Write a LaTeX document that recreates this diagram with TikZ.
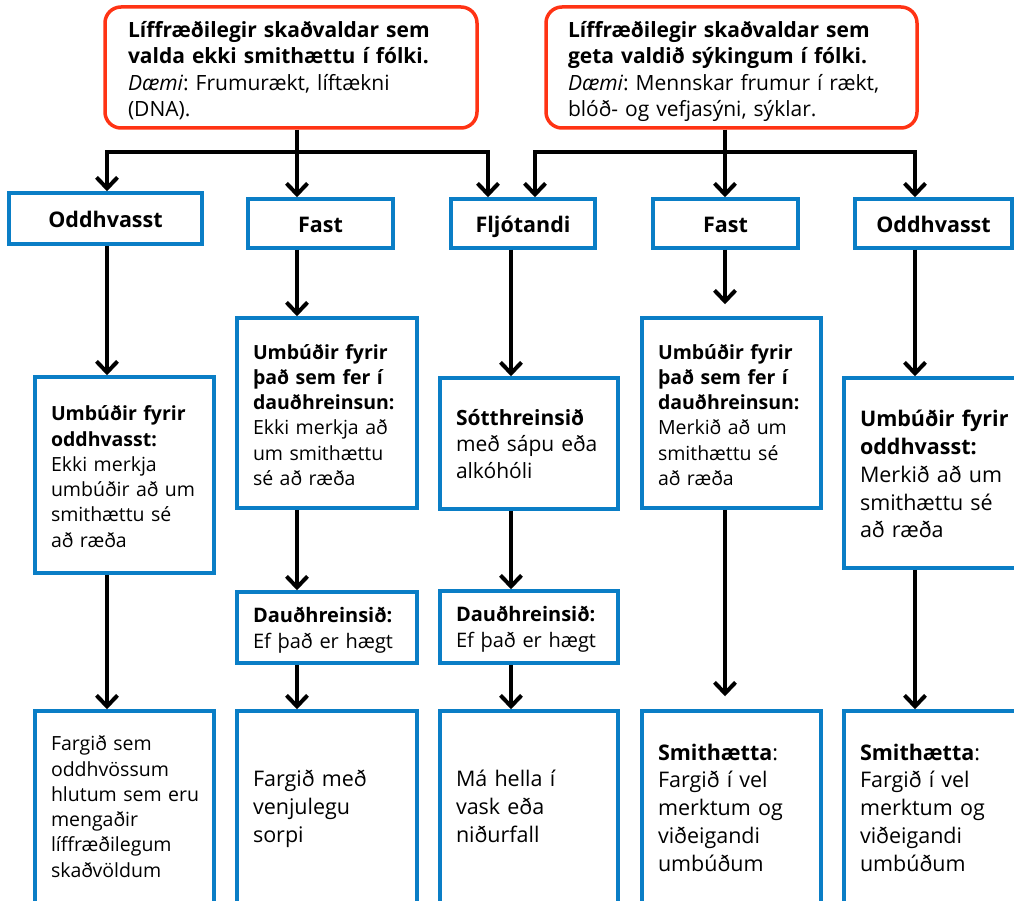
\documentclass[tikz,border=0pt]{standalone}
\usepackage{fontspec}
\setmainfont{Open Sans}
\usetikzlibrary{arrows.meta}
\definecolor{boxblue}{HTML}{0A7EC6}
\definecolor{boxred}{HTML}{FF3314}
\frenchspacing

\begin{document}
\begin{tikzpicture}[x=1pt, y=-1pt,
    redbox/.style={draw=boxred, line width=3.5pt, fill=white, rounded corners=16pt, align=left, inner sep=0pt, font=\fontsize{21}{26.5}\selectfont},
    bluebox/.style={draw=boxblue, line width=3.5pt, fill=white, sharp corners, align=left, inner sep=0pt, font=\fontsize{19.5}{25.3}\selectfont},
    head/.style={bluebox, align=center, text height=18.4pt, text depth=0pt, font=\bfseries\fontsize{21.5}{25.5}\selectfont},
    big/.style={font=\fontsize{21.5}{27.8}\selectfont},
    drop/.style={text height=0pt, text depth=#1},
    arr/.style={-{Straight Barb[length=11pt, width=21pt]}, line width=4pt},
    bar/.style={line width=4pt}]

    \clip (0,0) rectangle (1014,901);

    % Columns and junctions
    \coordinate (c1) at (107,0);
    \coordinate (c2) at (297,0);
    \coordinate (c3) at (511,0);
    \coordinate (c4) at (725,0);
    \coordinate (c5) at (915,0);
    \coordinate (fl) at (488,0);
    \coordinate (fr) at (535,0);
    \coordinate (j1) at (297,152);
    \coordinate (j2) at (725,152);

    % Top blocks
    \node[redbox, drop=60.4pt, minimum width=372pt, minimum height=121pt, text width=326pt] (harmless) at (291,67.5)
        {\textbf{Líffræðilegir skaðvaldar sem}\\\textbf{valda ekki smithættu í fólki.}\\\textit{Dæmi}: Frumurækt, líftækni\\(DNA).};
    \node[redbox, drop=60.4pt, minimum width=371pt, minimum height=121pt, text width=327pt] (harmful) at (731.5,67.5)
        {\textbf{Líffræðilegir skaðvaldar sem}\\\textbf{geta valdið sýkingum í fólki.}\\\textit{Dæmi}: Mennskar frumur í rækt,\\blóð- og vefjasýni, sýklar.};

    % Waste types
    \node[head, minimum width=193pt, minimum height=51pt] (sharpA) at (105.5,218.5) {Oddhvasst};
    \node[head, minimum width=145pt, minimum height=49pt] (solidA) at (320.5,223.5) {Fast};
    \node[head, minimum width=144pt, minimum height=49pt] (liquid) at (523,223.5) {Fljótandi};
    \node[head, minimum width=145pt, minimum height=49pt] (solidB) at (725.5,223.5) {Fast};
    \node[head, minimum width=157pt, minimum height=49pt] (sharpB) at (933.5,223.5) {Oddhvasst};

    % Containers
    \node[bluebox, drop=108.6pt, minimum width=179pt, minimum height=196pt, text width=147pt] (packA) at (124.5,475)
        {\textbf{Umbúðir fyrir}\\\textbf{oddhvasst:}\\Ekki merkja\\umbúðir að um\\smithættu sé\\að ræða};
    \node[bluebox, drop=108pt, minimum width=180pt, minimum height=190pt, text width=148pt] (packB) at (327,413)
        {\textbf{Umbúðir fyrir}\\\textbf{það sem fer í}\\\textbf{dauðhreinsun:}\\Ekki merkja að\\um smithættu\\sé að ræða};
    \node[bluebox, drop=37pt, minimum width=178pt, minimum height=131pt, text width=146pt, font=\fontsize{21}{26.7}\selectfont] (disinf) at (529,443.5)
        {\textbf{Sótthreinsið}\\með sápu eða\\alkóhóli};
    \node[bluebox, drop=108pt, minimum width=179pt, minimum height=190pt, text width=147pt] (packC) at (731.5,413)
        {\textbf{Umbúðir fyrir}\\\textbf{það sem fer í}\\\textbf{dauðhreinsun:}\\Merkið að um\\smithættu sé\\að ræða};
    \node[bluebox, big, drop=92.6pt, minimum width=180pt, minimum height=190pt, text width=148pt] (packD) at (934,473)
        {\textbf{Umbúðir~fyrir}\\\textbf{oddhvasst:}\\Merkið~að~um\\smithættu~sé\\að ræða};

    % Sterilise
    \node[bluebox, drop=9.6pt, minimum width=180pt, minimum height=71pt, text width=148pt, font=\fontsize{20}{26}\selectfont] (sterA) at (327,627.5)
        {\textbf{Dauðhreinsið:}\\Ef~það~er~hægt};
    \node[bluebox, drop=10.6pt, minimum width=178pt, minimum height=72pt, text width=146pt, font=\fontsize{20}{26}\selectfont] (sterB) at (529,627)
        {\textbf{Dauðhreinsið:}\\Ef~það~er~hægt};

    % Disposal
    \node[bluebox, drop=112.6pt, minimum width=179pt, minimum height=192pt, text width=147pt] (dispA) at (124.5,807)
        {Fargið sem\\oddhvössum\\hlutum~sem~eru\\mengaðir\\líffræðilegum\\skaðvöldum};
    \node[bluebox, big, drop=40.6pt, minimum width=180pt, minimum height=192pt, text width=148pt] (dispB) at (327,807)
        {Fargið með\\venjulegu\\sorpi};
    \node[bluebox, big, drop=40.6pt, minimum width=178pt, minimum height=192pt, text width=146pt] (dispC) at (529,807)
        {Má hella í\\vask eða\\niðurfall};
    \node[bluebox, big, drop=94pt, minimum width=179pt, minimum height=192pt, text width=147pt] (dispD) at (731.5,807)
        {\textbf{Smithætta}:\\Fargið í vel\\merktum og\\viðeigandi\\umbúðum};
    \node[bluebox, big, drop=94pt, minimum width=180pt, minimum height=192pt, text width=148pt] (dispE) at (934,807)
        {\textbf{Smithætta}:\\Fargið í vel\\merktum og\\viðeigandi\\umbúðum};

    % Branches from the top
    \draw[bar] (harmless.south -| j1) -- (j1);
    \draw[arr] (j1) -| (sharpA.north -| c1);
    \draw[arr] (j1) -- (solidA.north -| j1);
    \draw[arr] (j1) -| (liquid.north -| fl);
    \draw[bar] (harmful.south -| j2) -- (j2);
    \draw[arr] (j2) -| (liquid.north -| fr);
    \draw[arr] (j2) -- (solidB.north -| j2);
    \draw[arr] (j2) -| (sharpB.north -| c5);

    % Arrows down
    \draw[arr] (sharpA.south -| c1) -- (packA.north -| c1);
    \draw[arr] (packA.south -| c1) -- (dispA.north -| c1);
    \draw[arr] (solidA.south -| c2) -- (packB.north -| c2);
    \draw[arr] (packB.south -| c2) -- (sterA.north -| c2);
    \draw[arr] (sterA.south -| c2) -- (dispB.north -| c2);
    \draw[arr] (liquid.south -| c3) -- (disinf.north -| c3);
    \draw[arr] (disinf.south -| c3) -- (sterB.north -| c3);
    \draw[arr] (sterB.south -| c3) -- (dispC.north -| c3);
    \draw[arr, shorten >=12pt] (solidB.south -| c4) -- (packC.north -| c4);
    \draw[arr, shorten >=13pt] (packC.south -| c4) -- (dispD.north -| c4);
    \draw[arr] (sharpB.south -| c5) -- (packD.north -| c5);
    \draw[arr] (packD.south -| c5) -- (dispE.north -| c5);
\end{tikzpicture}
\end{document}
